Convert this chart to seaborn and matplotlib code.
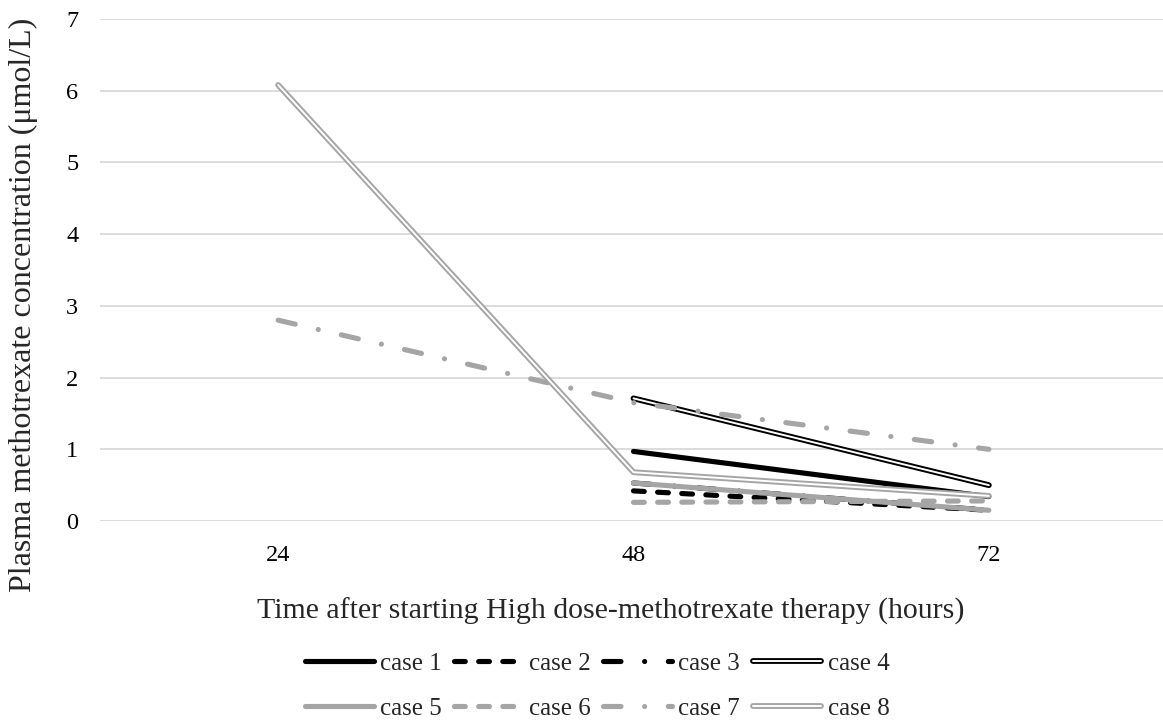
import numpy as np
import pandas as pd
import seaborn as sns
import matplotlib.pyplot as plt
import matplotlib.patheffects as pe

# Data (hours, umol/L)
hours = [24, 48, 72]
case1 = [np.nan, 0.97, 0.34]
case2 = [np.nan, 0.42, 0.15]
case3 = [np.nan, 0.53, 0.15]
case4 = [np.nan, 1.71, 0.50]
case5 = [np.nan, 0.53, 0.15]
case6 = [np.nan, 0.26, 0.28]
case7 = [2.80, 1.65, 1.00]
case8 = [6.08, 0.68, 0.35]

case_names = ["case 1", "case 2", "case 3", "case 4",
              "case 5", "case 6", "case 7", "case 8"]
case_values = [case1, case2, case3, case4, case5, case6, case7, case8]

df = pd.DataFrame({
    "hours": hours * len(case_names),
    "conc": sum(case_values, []),
    "case": [n for n in case_names for _ in hours],
})

sns.set_theme(style="white")
plt.rcParams["font.family"] = ["Liberation Serif", "DejaVu Serif"]

BLACK = "#000000"
GREY = "#A5A5A5"
dashed = (0, (2.1, 2.6))
dashdot = (0, (3.4, 4.6, 0.01, 4.6))

styles = {
    "case 1": dict(color=BLACK, lw=3.7, ls="-"),
    "case 2": dict(color=BLACK, lw=3.7, ls=dashed),
    "case 3": dict(color=BLACK, lw=3.7, ls=dashdot),
    "case 4": dict(color="white", lw=1.4, ls="-", outline=BLACK),
    "case 5": dict(color=GREY, lw=3.7, ls="-"),
    "case 6": dict(color=GREY, lw=3.7, ls=dashed),
    "case 7": dict(color=GREY, lw=3.7, ls=dashdot),
    "case 8": dict(color="white", lw=1.4, ls="-", outline=GREY),
}

fig = plt.figure(figsize=(11.63, 7.22), dpi=100)
ax = fig.add_axes([100.5 / 1163, 201 / 722, 1066 / 1163, 502 / 722])

for name in case_names:
    st = styles[name]
    sub = df[df["case"] == name]
    sns.lineplot(data=sub, x="hours", y="conc", ax=ax, label=name,
                 color=st["color"], linewidth=st["lw"], linestyle=st["ls"],
                 dash_capstyle="round", solid_capstyle="round")
    line = ax.get_lines()[-1]
    if "outline" in st:
        line.set_path_effects([pe.Stroke(linewidth=4.2, foreground=st["outline"]),
                               pe.Normal()])

ax.set_xlim(12, 84)
ax.set_ylim(0, 7)
ax.set_xticks(hours)
ax.set_yticks(range(0, 8))
ax.grid(axis="y", color="#D9D9D9", linewidth=1.3)
ax.grid(axis="x", visible=False)
for s in ax.spines.values():
    s.set_visible(False)
ax.tick_params(axis="both", length=0, labelsize=17.5, colors="#000000")
ax.tick_params(axis="x", pad=17)
ax.tick_params(axis="y", pad=16)

ax.set_xlabel("")
ax.set_ylabel("")
fig.text(611 / 1163, 1 - 611 / 722,
         "Time after starting High dose-methotrexate therapy (hours)",
         ha="center", va="center", fontsize=21.5)
fig.text(23 / 1163, 1 - 305 / 722,
         "Plasma methotrexate concentration (\u03bcmol/L)",
         ha="center", va="center", rotation=90, fontsize=23)

handles, labels = ax.get_legend_handles_labels()
ax.get_legend().remove()
# legend fills column by column, so interleave to get rows 1-4 and 5-8
order = [0, 4, 1, 5, 2, 6, 3, 7]
fig.legend([handles[i] for i in order], [labels[i] for i in order],
           ncol=4, loc="center",
           bbox_to_anchor=(597 / 1163, 1 - 686 / 722), frameon=False,
           fontsize=18, handlelength=2.75, handletextpad=0.25,
           columnspacing=0.5, labelspacing=0.9)

plt.savefig("out.png", dpi=100)
